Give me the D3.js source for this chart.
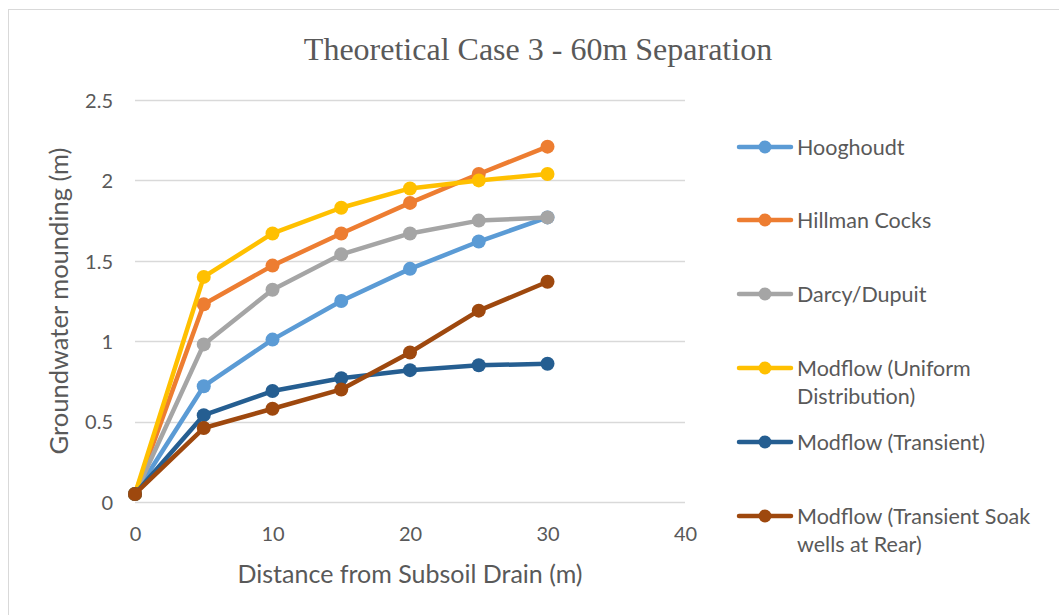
<!DOCTYPE html>
<html>
<head>
<meta charset="utf-8">
<script src="https://cdn.jsdelivr.net/npm/d3@7"></script>
<style>
  html, body { margin: 0; padding: 0; background: #fff; }
  svg { display: block; }
</style>
</head>
<body>
<svg id="chart" width="1059" height="615"></svg>
<script>
// Distances from the subsoil drain (m)
const distances = [0, 5, 10, 15, 20, 25, 30];

// Groundwater mounding (m) per method
const hooghoudt   = [0.05, 0.72, 1.01, 1.25, 1.45, 1.62, 1.77];
const hillman     = [0.05, 1.23, 1.47, 1.67, 1.86, 2.04, 2.21];
const darcy       = [0.05, 0.98, 1.32, 1.54, 1.67, 1.75, 1.77];
const uniform     = [0.05, 1.40, 1.67, 1.83, 1.95, 2.00, 2.04];
const transient   = [0.05, 0.54, 0.69, 0.77, 0.82, 0.85, 0.86];
const soakRear    = [0.05, 0.46, 0.58, 0.70, 0.93, 1.19, 1.37];

const seriesNames = [
  ["Hooghoudt"],
  ["Hillman Cocks"],
  ["Darcy/Dupuit"],
  ["Modflow (Uniform", "Distribution)"],
  ["Modflow (Transient)"],
  ["Modflow (Transient Soak", "wells at Rear)"]
];
const seriesValues = [hooghoudt, hillman, darcy, uniform, transient, soakRear];
const seriesColors = ["#5B9BD5", "#ED7D31", "#A5A5A5", "#FFC000", "#255E91", "#9E480E"];

const xTicks = [0, 10, 20, 30, 40];
const yTicks = [0, 0.5, 1, 1.5, 2, 2.5];

const titleText = "Theoretical Case 3 - 60m Separation";
const xTitle = "Distance from Subsoil Drain (m)";
const yTitle = "Groundwater mounding (m)";

const svg = d3.select("#chart");
const textColor = "#595959";
const sans = "Lato, 'Open Sans', sans-serif";

// outer frame
svg.append("rect")
  .attr("x", 8.5).attr("y", 9.5)
  .attr("width", 1100).attr("height", 700)
  .attr("fill", "none").attr("stroke", "#D9D9D9").attr("stroke-width", 1);

const plot = { left: 135, right: 685, top: 100, bottom: 502 };

const x = d3.scaleLinear().domain([0, 40]).range([plot.left, plot.right]);
const y = d3.scaleLinear().domain([0, 2.5]).range([plot.bottom, plot.top]);

// gridlines
svg.append("g")
  .selectAll("line")
  .data(yTicks)
  .join("line")
  .attr("x1", plot.left).attr("x2", plot.right)
  .attr("y1", d => Math.round(y(d)) + 0.5).attr("y2", d => Math.round(y(d)) + 0.5)
  .attr("stroke", "#D9D9D9").attr("stroke-width", 1.3);

// y axis labels
const yAxis = d3.axisLeft(y).tickValues(yTicks).tickFormat(d3.format("")).tickSize(0).tickPadding(0);
const yG = svg.append("g").attr("transform", `translate(113,0)`).call(yAxis);
yG.select(".domain").remove();
yG.selectAll("text")
  .attr("fill", textColor)
  .style("font-family", sans).style("font-size", "20px")
  .attr("dy", "0.36em");

// x axis labels
const xAxis = d3.axisBottom(x).tickValues(xTicks).tickFormat(d3.format("")).tickSize(0).tickPadding(0);
const xG = svg.append("g").attr("transform", `translate(0,527)`).call(xAxis);
xG.select(".domain").remove();
xG.selectAll("text")
  .attr("fill", textColor)
  .style("font-family", sans).style("font-size", "20px")
  .attr("dy", "0.72em");

// series lines and markers
const line = d3.line().x((d, i) => x(distances[i])).y(d => y(d));
seriesValues.forEach((vals, s) => {
  const g = svg.append("g");
  g.append("path")
    .attr("d", line(vals))
    .attr("fill", "none")
    .attr("stroke", seriesColors[s])
    .attr("stroke-width", 4.5)
    .attr("stroke-linejoin", "round")
    .attr("stroke-linecap", "round");
  g.selectAll("circle")
    .data(vals)
    .join("circle")
    .attr("cx", (d, i) => x(distances[i]))
    .attr("cy", d => y(d))
    .attr("r", 7)
    .attr("fill", seriesColors[s]);
});

// title
svg.append("text")
  .attr("x", 538).attr("y", 60)
  .attr("text-anchor", "middle")
  .attr("fill", textColor)
  .style("font-family", "'Liberation Serif', 'Times New Roman', serif")
  .style("font-size", "32px")
  .text(titleText);

// axis titles
svg.append("text")
  .attr("x", 410).attr("y", 583)
  .attr("text-anchor", "middle")
  .attr("fill", textColor)
  .style("font-family", sans).style("font-size", "25px")
  .text(xTitle);

svg.append("text")
  .attr("transform", "translate(68,301) rotate(-90)")
  .attr("text-anchor", "middle")
  .attr("fill", textColor)
  .style("font-family", sans).style("font-size", "25.5px")
  .text(yTitle);

// legend
const legendRows = [147, 220, 294, 368, 442, 516];
const legend = svg.append("g");
seriesNames.forEach((lines, s) => {
  const cy = legendRows[s];
  const row = legend.append("g");
  row.append("line")
    .attr("x1", 739).attr("x2", 791)
    .attr("y1", cy).attr("y2", cy)
    .attr("stroke", seriesColors[s]).attr("stroke-width", 4.5)
    .attr("stroke-linecap", "round");
  row.append("circle")
    .attr("cx", 765).attr("cy", cy).attr("r", 6.5)
    .attr("fill", seriesColors[s]);
  const t = row.append("text")
    .attr("x", 797).attr("y", cy + 7.5)
    .attr("fill", textColor)
    .style("font-family", sans).style("font-size", "21.5px");
  lines.forEach((ln, i) => {
    t.append("tspan").attr("x", 797).attr("dy", i === 0 ? 0 : 28.5).text(ln);
  });
});
</script>
</body>
</html>
